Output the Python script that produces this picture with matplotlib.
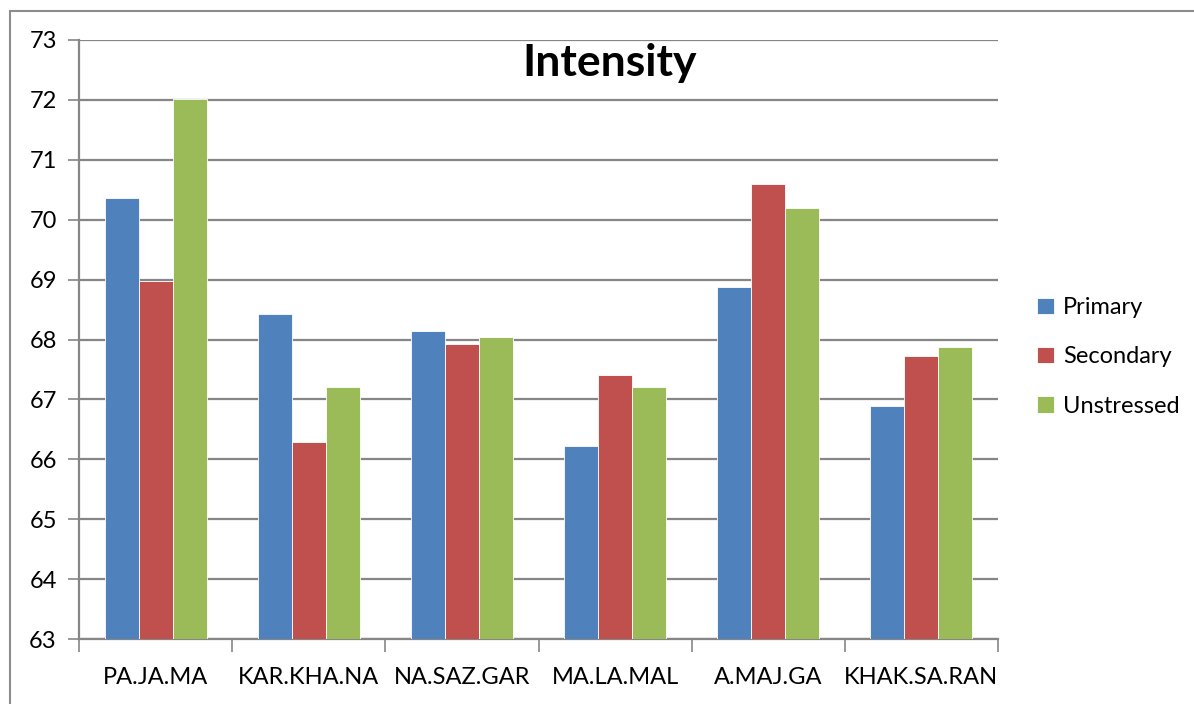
import matplotlib
matplotlib.use("Agg")
import matplotlib.pyplot as plt
from matplotlib.patches import Rectangle
import numpy as np

categories = ["PA.JA.MA", "KAR.KHA.NA", "NA.SAZ.GAR", "MA.LA.MAL", "A.MAJ.GA", "KHAK.SA.RAN"]
primary = [70.37, 68.43, 68.14, 66.22, 68.87, 66.89]
secondary = [68.98, 66.29, 67.92, 67.40, 70.59, 67.73]
unstressed = [72.01, 67.21, 68.04, 67.21, 70.20, 67.88]
series_names = ["Primary", "Secondary", "Unstressed"]
y_ticks = [63, 64, 65, 66, 67, 68, 69, 70, 71, 72, 73]

colors = ["#4F81BD", "#C0504D", "#9BBB59"]
grid_col = "#868686"

plt.rcParams["font.family"] = ["Lato", "DejaVu Sans"]

W, H = 1194, 704
fig = plt.figure(figsize=(W / 100, H / 100), dpi=100)
ax = fig.add_axes([79 / W, 1 - 639 / H, (998 - 79) / W, (639 - 40) / H])

# outer chart border (left and top edges visible)
fig.patches.append(Rectangle((10 / W, -0.1), 1.2, 1 - 11 / H + 0.1,
                             transform=fig.transFigure, fill=False,
                             edgecolor="#8C8C8C", linewidth=1.5))

x = np.arange(len(categories))
bw = 0.222
for i, (vals, c, name) in enumerate(zip([primary, secondary, unstressed], colors, series_names)):
    ax.bar(x + (i - 1) * bw, np.array(vals) - 63, bottom=63, width=bw, color=c,
           edgecolor="white", linewidth=0.6, label=name, zorder=3)

ax.set_ylim(63, 73)
ax.set_xlim(-0.5, len(categories) - 0.5)
ax.set_yticks(y_ticks)
ax.yaxis.grid(True, color=grid_col, linewidth=1.6, zorder=0)
ax.tick_params(axis="y", length=8, width=1.2, color=grid_col, labelsize=17, pad=8)

ax.set_xticks(x)
ax.set_xticklabels(categories)
ax.set_xticks(np.arange(len(categories) + 1) - 0.5, minor=True)
ax.tick_params(axis="x", which="major", length=0, labelsize=17, pad=20)
ax.tick_params(axis="x", which="minor", length=9, width=1.2, color=grid_col)

for s in ["top", "right"]:
    ax.spines[s].set_visible(False)
for s in ["left", "bottom"]:
    ax.spines[s].set_color(grid_col)
    ax.spines[s].set_linewidth(1.6)

fig.text(610 / W, 1 - 63 / H, "Intensity", ha="center", va="center",
         fontsize=32, fontweight="bold")

handles, labels = ax.get_legend_handles_labels()
fig.legend(handles, labels, loc="center left", bbox_to_anchor=(1016 / W, 1 - 357 / H),
           frameon=False, fontsize=17, handlelength=0.7, handleheight=0.7,
           handletextpad=0.4, labelspacing=1.2)

fig.savefig("out.png", dpi=100)
